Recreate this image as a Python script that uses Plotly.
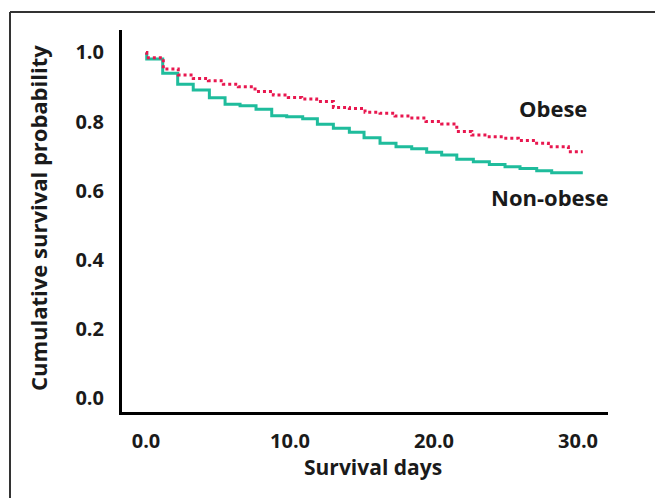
import plotly.graph_objects as go

# Kaplan-Meier step data (time of step, survival after step)
obese_t = [0, 0.05, 1.2, 2.24, 3.28, 4.33, 5.37, 6.41, 7.57, 8.84, 9.88, 10.81, 11.85,
           13.01, 14.12, 15.21, 16.25, 17.29, 18.33, 19.44, 20.53, 21.58, 22.62, 23.66,
           24.81, 25.85, 26.9, 27.94, 29.33, 30.33]
obese_s = [1.0, 0.985, 0.952, 0.935, 0.925, 0.918, 0.908, 0.901, 0.887, 0.877, 0.870, 0.865,
           0.858, 0.841, 0.838, 0.827, 0.824, 0.816, 0.810, 0.800, 0.793, 0.771, 0.761,
           0.756, 0.752, 0.745, 0.737, 0.727, 0.713, 0.713]

nonobese_t = [0, 0.05, 1.16, 2.2, 3.28, 4.4, 5.49, 6.53, 7.64, 8.73, 9.77, 10.88, 11.9,
              13.01, 14.12, 15.14, 16.25, 17.36, 18.45, 19.49, 20.53, 21.58, 22.73, 23.84,
              24.93, 25.97, 27.13, 28.17, 30.33]
nonobese_s = [1.0, 0.981, 0.940, 0.908, 0.891, 0.869, 0.850, 0.846, 0.836, 0.817, 0.814,
              0.808, 0.792, 0.781, 0.769, 0.753, 0.737, 0.727, 0.721, 0.711, 0.703, 0.691,
              0.684, 0.676, 0.669, 0.664, 0.658, 0.652, 0.652]

x_ticks = [0, 10, 20, 30]
x_tick_labels = ["0.0", "10.0", "20.0", "30.0"]
y_ticks = [0, 0.2, 0.4, 0.6, 0.8, 1.0]
y_tick_labels = ["0.0", "0.2", "0.4", "0.6", "0.8", "1.0"]

FONT = "Open Sans"
TXT = "#1a1a1a"

fig = go.Figure()
fig.add_trace(go.Scatter(x=nonobese_t, y=nonobese_s, mode="lines",
                         line=dict(shape="hv", color="#1fbc9c", width=3),
                         name="Non-obese", hoverinfo="skip"))
fig.add_trace(go.Scatter(x=obese_t, y=obese_s, mode="lines",
                         line=dict(shape="hv", color="#e8174f", width=3, dash="dot"),
                         name="Obese", hoverinfo="skip"))

OFF = 8  # page body margin
W, H = 663 - OFF, 498 - OFF
L, R, T, B = 122 - OFF, 55, 30 - OFF, 86
pw, ph = W - L - R, H - T - B

def px2paper(px, py):
    return (px - OFF - L) / pw, (H - B - (py - OFF)) / ph

annots = []
x, y = px2paper(553, 108)
annots.append(dict(x=x, y=y, xref="paper", yref="paper", text="<b>Obese</b>", showarrow=False,
                   font=dict(family=FONT, size=22, color=TXT), xanchor="center", yanchor="middle"))
x, y = px2paper(550, 197)
annots.append(dict(x=x, y=y, xref="paper", yref="paper", text="<b>Non-obese</b>", showarrow=False,
                   font=dict(family=FONT, size=22, color=TXT), xanchor="center", yanchor="middle"))
x, y = px2paper(38, 218)
annots.append(dict(x=x, y=y, xref="paper", yref="paper", text="<b>Cumulative survival probability</b>",
                   showarrow=False, textangle=-90,
                   font=dict(family=FONT, size=22, color=TXT), xanchor="center", yanchor="middle"))
x, y = px2paper(373, 467)
annots.append(dict(x=x, y=y, xref="paper", yref="paper", text="<b>Survival days</b>", showarrow=False,
                   font=dict(family=FONT, size=21, color=TXT), xanchor="center", yanchor="middle"))

x0, y0 = px2paper(10, 12)
shapes = [
    dict(type="line", xref="paper", yref="paper", x0=x0, x1=1.3, y0=y0, y1=y0,
         line=dict(color="#333333", width=2)),
    dict(type="line", xref="paper", yref="paper", x0=x0, x1=x0, y0=y0, y1=-0.3,
         line=dict(color="#333333", width=2)),
]

fig.update_layout(
    width=W, height=H,
    margin=dict(l=L, r=R, t=T, b=B),
    paper_bgcolor="white", plot_bgcolor="white",
    showlegend=False,
    annotations=annots,
    shapes=shapes,
    xaxis=dict(range=[-1.667, 32.08], tickvals=x_ticks, ticktext=[f"<b>{t}</b>" for t in x_tick_labels],
               showline=True, linecolor="black", linewidth=3, showgrid=False, zeroline=False,
               ticks="outside", ticklen=9, tickcolor="rgba(0,0,0,0)",
               tickfont=dict(family=FONT, size=20, color=TXT)),
    yaxis=dict(range=[-0.0405, 1.065], tickvals=y_ticks, ticktext=[f"<b>{t}</b>" for t in y_tick_labels],
               showline=True, linecolor="black", linewidth=3, showgrid=False, zeroline=False,
               ticks="outside", ticklen=11, tickcolor="rgba(0,0,0,0)",
               tickfont=dict(family=FONT, size=20, color=TXT)),
)

fig.write_html("out.html")
